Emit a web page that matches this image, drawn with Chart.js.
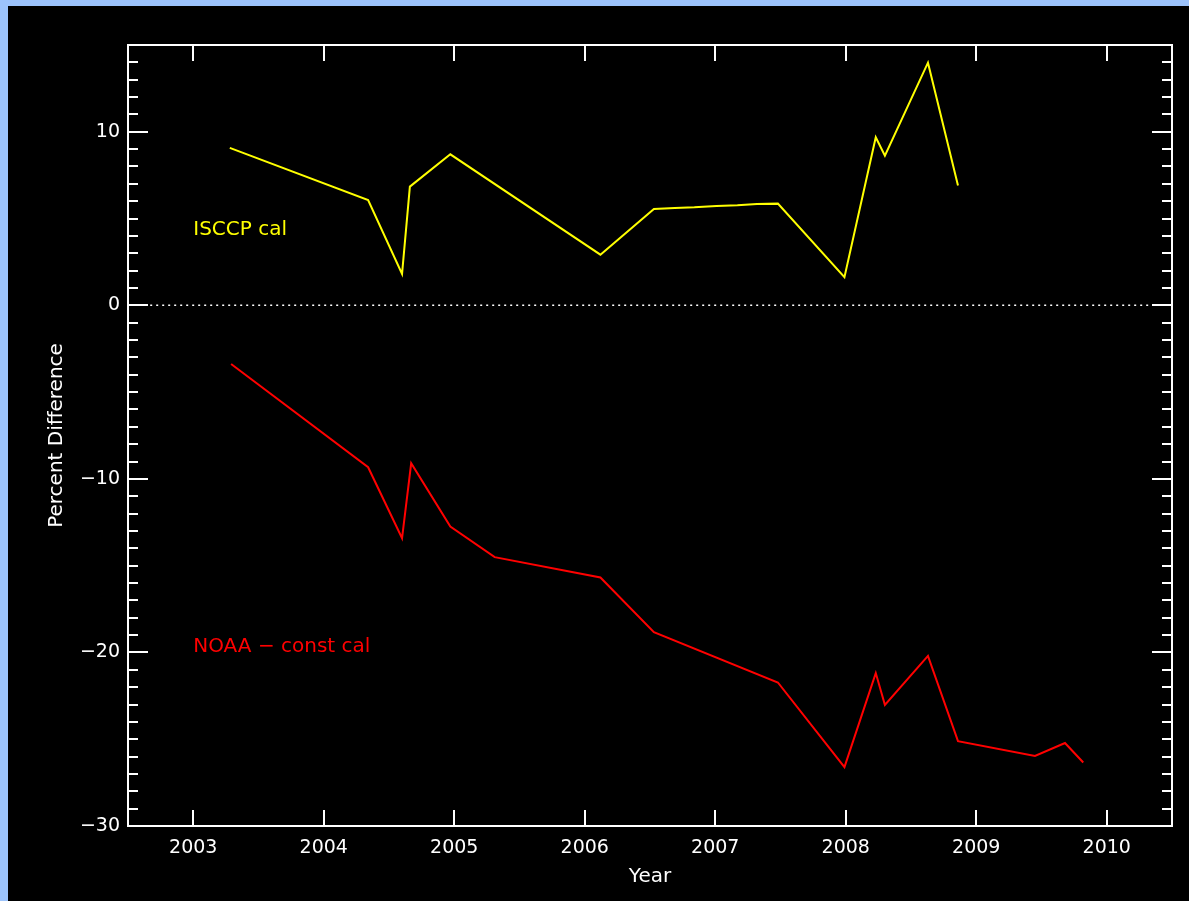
<!DOCTYPE html>
<html>
<head>
<meta charset="utf-8">
<title>Percent Difference</title>
<script src="https://cdn.jsdelivr.net/npm/chart.js@4/dist/chart.umd.min.js"></script>
<style>
  html, body { margin: 0; padding: 0; background: #9cc3fb; overflow: hidden; }
  #wrap { position: absolute; left: 8px; top: 6px; width: 1181px; height: 895px; background: #000; }
  canvas { display: block; }
</style>
</head>
<body>
<div id="wrap"><canvas id="chart" width="1181" height="895"></canvas></div>
<script>
// values
const isccpYears = [2003.28, 2004.34, 2004.60, 2004.66, 2004.97, 2006.12, 2006.53, 2006.69, 2006.84, 2007.01, 2007.17, 2007.32, 2007.48, 2007.99, 2008.23, 2008.30, 2008.63, 2008.86];
const isccpValues = [9.07, 6.07, 1.81, 6.84, 8.70, 2.92, 5.55, 5.61, 5.65, 5.73, 5.77, 5.84, 5.86, 1.62, 9.68, 8.62, 13.98, 6.90];

const noaaYears = [2003.29, 2004.34, 2004.60, 2004.67, 2004.97, 2005.31, 2006.12, 2006.53, 2007.48, 2007.99, 2008.23, 2008.30, 2008.63, 2008.86, 2009.45, 2009.68, 2009.82];
const noaaValues = [-3.38, -9.33, -13.42, -9.10, -12.75, -14.51, -15.68, -18.83, -21.73, -26.61, -21.19, -23.02, -20.20, -25.11, -25.96, -25.22, -26.34];

const zeroLineYears = [2002.67, 2010.33];
const zeroLineValues = [0, 0];

const xTicks = [2003, 2004, 2005, 2006, 2007, 2008, 2009, 2010];
const yTicks = [-30, -20, -10, 0, 10];

// label anchors (year, value)
const isccpLabel = { text: "ISCCP cal", x: 2003.0, y: 4.35 };
const noaaLabel = { text: "NOAA \u2212 const cal", x: 2003.0, y: -19.7 };

const FONT = "'DejaVu Sans', sans-serif";

function toPoints(xs, ys) {
  return xs.map((x, i) => ({ x: x, y: ys[i] }));
}

// frame, inward ticks and the two series labels, in the IDL style
const framePlugin = {
  id: "frame",
  afterDatasetsDraw(chart) {
    const ctx = chart.ctx;
    const a = chart.chartArea;
    const xs = chart.scales.x;
    const ys = chart.scales.y;
    ctx.save();
    ctx.strokeStyle = "#fff";
    ctx.lineWidth = 2;
    ctx.strokeRect(a.left, a.top, a.right - a.left, a.bottom - a.top);

    ctx.beginPath();
    xTicks.forEach((v) => {
      const px = Math.round(xs.getPixelForValue(v));
      ctx.moveTo(px, a.bottom);
      ctx.lineTo(px, a.bottom - 16);
      ctx.moveTo(px, a.top);
      ctx.lineTo(px, a.top + 16);
    });
    for (let v = -30; v <= 15; v++) {
      const py = Math.round(ys.getPixelForValue(v));
      const len = v % 10 === 0 ? 20 : 10;
      ctx.moveTo(a.left, py);
      ctx.lineTo(a.left + len, py);
      ctx.moveTo(a.right, py);
      ctx.lineTo(a.right - len, py);
    }
    ctx.stroke();

    ctx.font = "20px " + FONT;
    ctx.textBaseline = "middle";
    ctx.textAlign = "left";
    ctx.fillStyle = "#ffff00";
    ctx.fillText(isccpLabel.text, xs.getPixelForValue(isccpLabel.x), ys.getPixelForValue(isccpLabel.y));
    ctx.fillStyle = "#ff0000";
    ctx.fillText(noaaLabel.text, xs.getPixelForValue(noaaLabel.x), ys.getPixelForValue(noaaLabel.y));
    ctx.restore();
  },
};

new Chart(document.getElementById("chart"), {
  type: "line",
  data: {
    datasets: [
      {
        label: "zero",
        data: toPoints(zeroLineYears, zeroLineValues),
        borderColor: "#fff",
        borderWidth: 1.5,
        borderDash: [2, 4],
        pointRadius: 0,
      },
      {
        label: "ISCCP cal",
        data: toPoints(isccpYears, isccpValues),
        borderColor: "#ffff00",
        borderWidth: 2,
        pointRadius: 0,
        tension: 0,
      },
      {
        label: "NOAA - const cal",
        data: toPoints(noaaYears, noaaValues),
        borderColor: "#ff0000",
        borderWidth: 2,
        pointRadius: 0,
        tension: 0,
      },
    ],
  },
  options: {
    responsive: false,
    animation: false,
    devicePixelRatio: 1,
    layout: { padding: { top: 39, right: 17, left: 0, bottom: 0 } },
    plugins: { legend: { display: false }, tooltip: { enabled: false } },
    scales: {
      x: {
        type: "linear",
        min: 2002.5,
        max: 2010.5,
        grid: { display: false, drawTicks: false },
        border: { display: false },
        afterBuildTicks: (scale) => { scale.ticks = xTicks.map((v) => ({ value: v })); },
        afterFit: (scale) => { scale.height = 75; },
        ticks: {
          color: "#fff",
          padding: 11,
          maxRotation: 0,
          font: { family: FONT, size: 19 },
          callback: (v) => String(v),
        },
        title: {
          display: true,
          text: "Year",
          color: "#fff",
          font: { family: FONT, size: 20 },
          padding: { top: 0, bottom: 12 },
        },
      },
      y: {
        type: "linear",
        min: -30,
        max: 15,
        grid: { display: false, drawTicks: false },
        border: { display: false },
        afterBuildTicks: (scale) => { scale.ticks = yTicks.map((v) => ({ value: v })); },
        afterFit: (scale) => { scale.width = 120; },
        ticks: {
          color: "#fff",
          padding: 8,
          font: { family: FONT, size: 19 },
          callback: (v) => (v < 0 ? "\u2212" + Math.abs(v) : String(v)),
        },
        title: {
          display: true,
          text: "Percent Difference",
          color: "#fff",
          font: { family: FONT, size: 20 },
          padding: { top: 37, bottom: 0 },
        },
      },
    },
  },
  plugins: [framePlugin],
});
</script>
</body>
</html>
